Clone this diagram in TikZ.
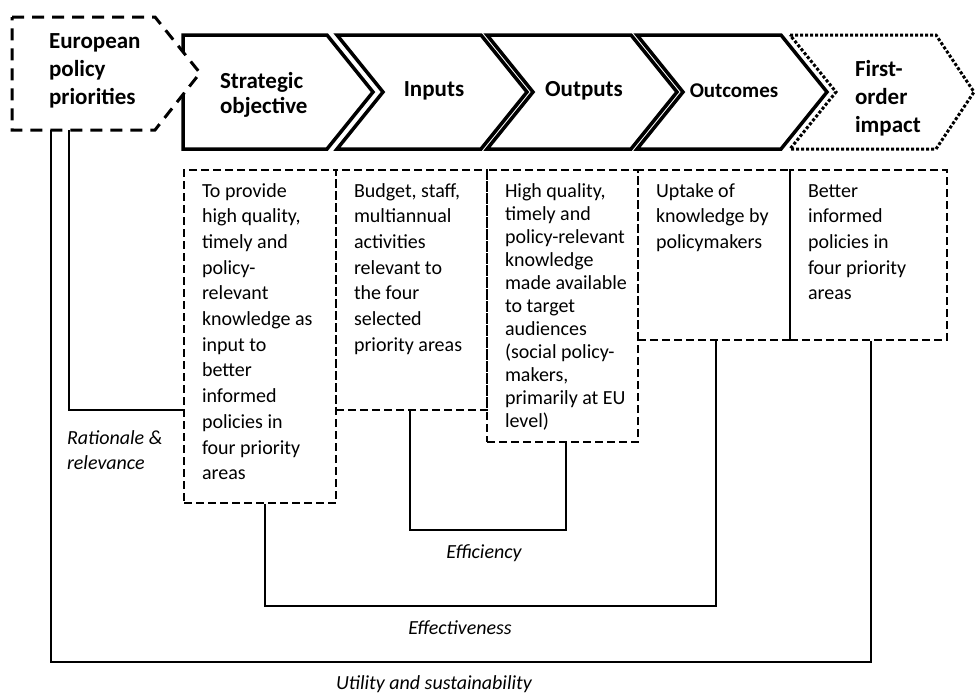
\documentclass[tikz,border=0pt]{standalone}
\usepackage{fontspec}
\setmainfont{Carlito}
\usepackage{tikz}
\newcommand{\evaltext}[3]{\makebox[#1][l]{\parbox[t][#2][t]{100pt}{\raggedright\rule{0pt}{13.5pt}#3}}}

\begin{document}
\begin{tikzpicture}[x=0.5pt,y=-0.5pt,
	chev/.style={line width=1.75pt,line join=miter},
	prio/.style={line width=1.5pt,dash pattern=on 6pt off 4pt,fill=white},
	impact/.style={line width=1.5pt,dash pattern=on 1.5pt off 1pt},
	evalbox/.style={draw,line width=1pt,dash pattern=on 4pt off 2pt,anchor=north west,inner xsep=9pt,inner ysep=0pt,font=\fontsize{10}{12.85}\selectfont},
	stage/.style={font=\fontsize{11.5}{14}\selectfont\bfseries,align=left},
	crit/.style={font=\fontsize{10}{12.5}\selectfont\itshape,align=left},
	link/.style={line width=1pt}]
		\useasboundingbox (0,0) rectangle (976,693);
		\draw[chev] (183,35) -- (327,35) -- (373,92) -- (327,149) -- (183,149) -- cycle;
		\node[stage,anchor=west,font=\fontsize{11.5}{12.5}\selectfont\bfseries] (strat) at (213,95) {Strategic\\objective};
		\foreach \x/\n/\t/\s in {337/inp/Inputs/11.5,487/outp/Outputs/11.5,637/outc/Outcomes/10.5} {
			\draw[chev] (\x,35) -- ++(144,0) -- ++(46,57) -- ++(-46,57) -- ++(-144,0) -- ++(46,-57) -- cycle;
			\node[font=\fontsize{\s}{14}\selectfont\bfseries] (\n) at (\x+97,91) {\t};
		}
		\draw[impact] (790,35) -- (936,35) -- (974,92) -- (936,149) -- (790,149) -- (836,92) -- cycle;
		\node[stage,anchor=west] (fimp) at (848,98) {First-\\order\\impact};
		\draw[prio] (12,17) -- (155,17) -- (200,73) -- (155,130) -- (12,130) -- cycle;
		\node[stage,anchor=west] (prio) at (42,71) {European\\policy\\priorities};
		\node[evalbox] (box1) at (183,169) {\evaltext{58pt}{166.5pt}{To provide\\high quality,\\timely and\\policy-\\relevant\\knowledge as\\input to\\better\\informed\\policies in\\four priority\\areas}};
		\node[evalbox] (box2) at (335,169) {\evaltext{57.5pt}{120pt}{Budget, staff,\\multiannual\\activities\\relevant to\\the four\\selected\\priority areas}};
		\node[evalbox,font=\fontsize{10}{11.5}\selectfont] (box3) at (486,169) {\evaltext{57.5pt}{136pt}{High quality,\\timely and\\policy-relevant\\knowledge\\made available\\to target\\audiences\\(social policy-\\makers,\\primarily at EU\\level)}};
		\node[evalbox] (box4) at (637,169) {\evaltext{58pt}{85pt}{Uptake of\\knowledge by\\policymakers}};
		\node[evalbox] (box5) at (789,169) {\evaltext{60.5pt}{85pt}{Better\\informed\\policies in\\four priority\\areas}};
		\coordinate (utilstart) at (51,130);
		\coordinate (ratstart) at (69,130);
		\draw[link] (ratstart) |- (box1.west |- 0,410);
		\draw[link] (utilstart) -- ++(0,532) -| (box5.south -| 871,0);
		\draw[link] (box1.south -| 265,0) -- ++(0,102) -| (box4.south -| 716,0);
		\draw[link] (box2.south -| 410,0) -- ++(0,119) -| (box3.south -| 566,0);
		\node[crit,anchor=west] (rat) at (60,450) {Rationale \&\\relevance};
		\node[crit] (eff) at (484,553) {Efficiency};
		\node[crit] (effv) at (460,628) {Effectiveness};
		\node[crit] (util) at (434,684) {Utility and sustainability};
	\end{tikzpicture}
\end{document}
